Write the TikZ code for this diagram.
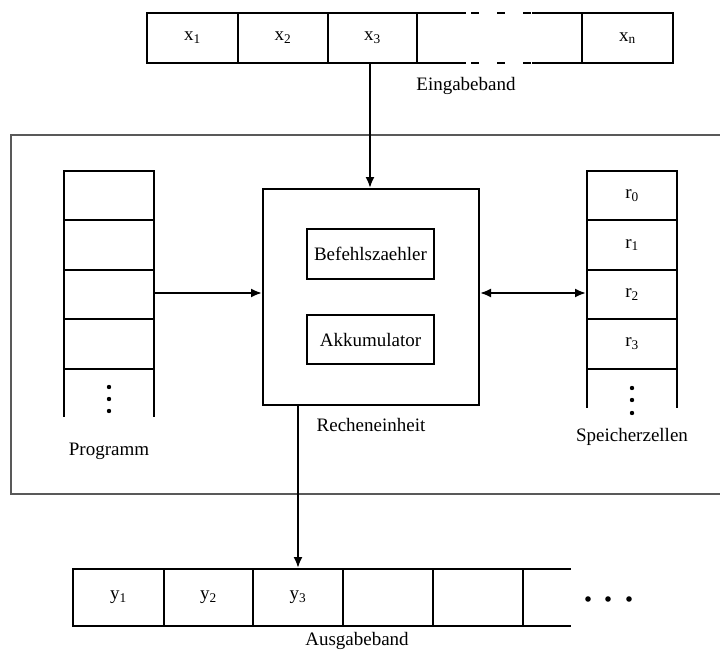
\documentclass[tikz,border=0pt]{standalone}
\usepackage{fontspec}
\setmainfont{Liberation Serif}
\usetikzlibrary{arrows.meta}
\begin{document}
\begin{tikzpicture}[x=1pt,y=-1pt,
	line width=2pt,
	every node/.style={font=\fontsize{19}{22}\selectfont},
	cell/.style={draw,inner sep=0,outer sep=0,minimum width=90,minimum height=50},
	unit/.style={draw,inner sep=0,minimum width=127,minimum height=50},
	tip/.style={-{Latex[length=11pt,width=9pt]}},
	tips/.style={{Latex[length=11pt,width=9pt]}-{Latex[length=11pt,width=9pt]}}]
	\useasboundingbox (0,0) rectangle (720,650);
	% Frame
	\draw [line width=1.2pt,black!65] (720,135) -- (11,135) -- (11,494) -- (720,494);
	% Eingabeband
	\node [cell,minimum width=91] (x1) at (192.5,38) {x\textsubscript{1}};
	\node [cell] (x2) at (283,38) {x\textsubscript{2}};
	\node [cell,minimum width=89] (x3) at (372.5,38) {x\textsubscript{3}};
	\node [cell,minimum width=91] (xn) at (627.5,38) {x\textsubscript{n}};
	\coordinate (ga) at (466,13); \coordinate (gb) at (532,13);
	\coordinate (gc) at (466,63); \coordinate (gd) at (532,63);
	\draw (x3.north east) -- (ga); \draw (gb) -- (xn.north west);
	\draw (x3.south east) -- (gc); \draw (gd) -- (xn.south west);
	\draw [dash pattern=on 8pt off 18pt] (471,13) -- (gb) (471,63) -- (gd);
	\node (ein) at (466,86) {Eingabeband};
	% Recheneinheit
	\node [draw,inner sep=0,minimum width=216,minimum height=216] (rech) at (371,297) {};
	\node [unit] (bz) at (370.5,254) {Befehlszaehler};
	\node [unit,minimum height=49] (akku) at (370.5,339.5) {Akkumulator};
	\node (rlbl) at (371,425) {Recheneinheit};
	% Programm
	\node [cell,minimum height=49.5] (p1) at (109,195.5) {};
	\node [cell,minimum height=49.5] (p2) at (109,245) {};
	\node [cell,minimum height=49.5] (p3) at (109,294.5) {};
	\node [cell,minimum height=49.5] (p4) at (109,344) {};
	\coordinate (pa) at (64,417); \coordinate (pb) at (154,417);
	\draw (p4.south west) -- (pa) (p4.south east) -- (pb);
	\foreach \y in {387,399,411} \fill (109,\y) circle [radius=2.2];
	\node (plbl) at (109,451) {Programm};
	% Speicherzellen
	\node [cell,minimum height=49.5] (r0) at (632,195.5) {r\textsubscript{0}};
	\node [cell,minimum height=49.5] (r1) at (632,245) {r\textsubscript{1}};
	\node [cell,minimum height=49.5] (r2) at (632,294.5) {r\textsubscript{2}};
	\node [cell,minimum height=49.5] (r3) at (632,344) {r\textsubscript{3}};
	\coordinate (ra) at (587,408); \coordinate (rb) at (677,408);
	\draw (r3.south west) -- (ra) (r3.south east) -- (rb);
	\foreach \y in {388,400,413} \fill (632,\y) circle [radius=2.2];
	\node (slbl) at (632,437) {Speicherzellen};
	% Ausgabeband
	\node [cell,minimum width=91,minimum height=57] (y1) at (118.5,597.5) {y\textsubscript{1}};
	\node [cell,minimum width=89,minimum height=57] (y2) at (208.5,597.5) {y\textsubscript{2}};
	\node [cell,minimum height=57] (y3) at (298,597.5) {y\textsubscript{3}};
	\node [cell,minimum height=57] (y4) at (388,597.5) {};
	\node [cell,minimum height=57] (y5) at (478,597.5) {};
	\coordinate (ya) at (571,569); \coordinate (yb) at (571,626);
	\draw (y5.north east) -- (ya) (y5.south east) -- (yb);
	\foreach \x in {588,608,629} \fill (\x,599) circle [radius=2.8];
	\node (albl) at (357,641) {Ausgabeband};
	% Arrows
	\draw [tip] ([xshift=-2.5pt]x3.south) -- ([xshift=-2.5pt]x3.south |- rech.north);
	\draw [tip] ([yshift=1.5pt]p3.east) -- ([yshift=1.5pt]p3.east -| rech.west);
	\draw [tips] ([yshift=1.5pt]r2.west -| rech.east) -- ([shift={(-1pt,1.5pt)}]r2.west);
	\draw [tip] (y3.north |- rech.south) -- ([yshift=1pt]y3.north);
\end{tikzpicture}
\end{document}
